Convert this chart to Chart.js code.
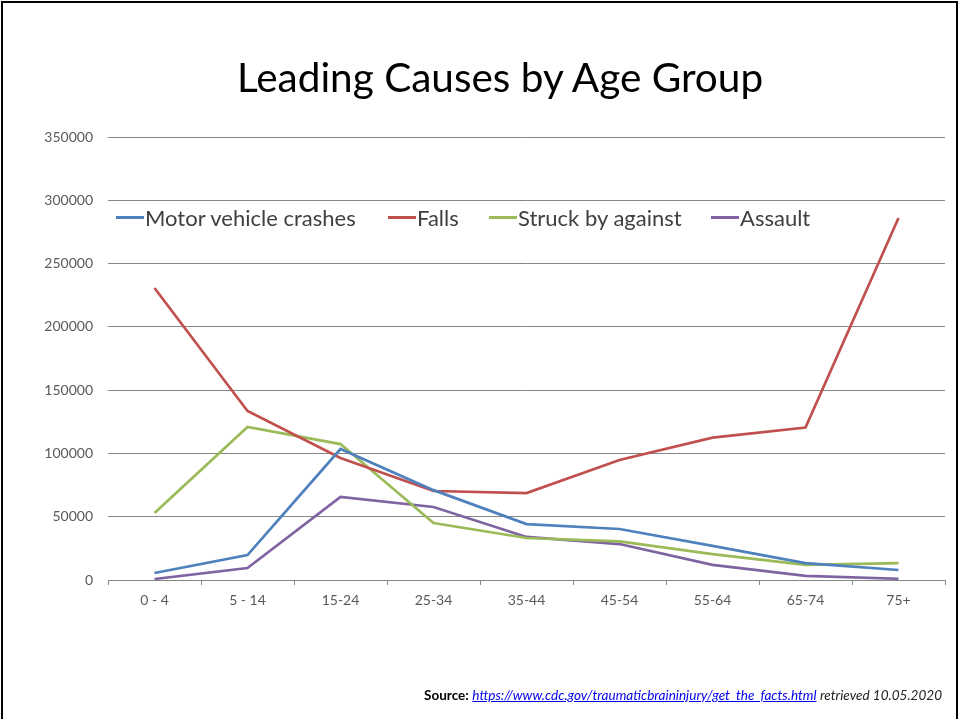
<!DOCTYPE html>
<html>
<head>
<meta charset="utf-8">
<script src="https://cdn.jsdelivr.net/npm/chart.js@4"></script>
<style>
  html, body { margin:0; padding:0; background:#fff; }
  #wrap { position:relative; width:960px; height:719px; overflow:hidden; font-family: Lato, "Open Sans", sans-serif; }
  #frame { position:absolute; left:1px; top:1px; width:957px; height:740px; border:2px solid #000; box-sizing:border-box; }
  #title { position:absolute; left:20px; width:960px; top:52px; text-align:center; font-size:40.5px; color:#000; }
  #cv { position:absolute; left:0; top:0; }
  #legend { position:absolute; top:204px; left:0; font-size:22px; color:#404040; white-space:nowrap; }
  .li { position:absolute; top:0; display:flex; align-items:center; }
  .sw { display:inline-block; width:28px; height:3px; margin-right:1px; }
  #source { position:absolute; top:687px; left:424px; font-size:13.55px; color:#000; white-space:nowrap; }
  #source b { font-weight:bold; }
  #source a { color:#0000ee; font-style:italic; text-decoration:underline; }
  #source i { color:#222; }
</style>
</head>
<body>
<div id="wrap">
  <canvas id="cv" width="960" height="719"></canvas>
  <div id="frame"></div>
  <div id="title">Leading Causes by Age Group</div>
  <div id="legend"></div>
  <div id="source"><b>Source:</b> <a>https://www.cdc.gov/traumaticbraininjury/get_the_facts.html</a> <i>retrieved 10.05.2020</i></div>
</div>
<script>
const categories = ["0 - 4", "5 - 14", "15-24", "25-34", "35-44", "45-54", "55-64", "65-74", "75+"];
const motorVehicle = [5500, 19700, 103500, 71000, 44200, 40300, 27000, 13400, 7900];
const falls = [230700, 133500, 96400, 70300, 68700, 94800, 112500, 120500, 286000];
const struckBy = [52900, 120900, 107400, 45000, 33200, 30500, 20500, 12000, 13400];
const assault = [800, 9500, 65600, 57700, 34000, 28400, 11900, 3200, 1000];
const seriesNames = ["Motor vehicle crashes", "Falls", "Struck by against", "Assault"];
const seriesColors = ["#4F81BD", "#C0504D", "#9BBB59", "#8064A2"];
const yTicks = [0, 50000, 100000, 150000, 200000, 250000, 300000, 350000];

const seriesData = [motorVehicle, falls, struckBy, assault];

// HTML legend
const legendPos = [116, 388, 489, 711];
const legend = document.getElementById('legend');
seriesNames.forEach((n, i) => {
  const d = document.createElement('div');
  d.className = 'li';
  d.style.left = legendPos[i] + 'px';
  d.innerHTML = '<span class="sw" style="background:' + seriesColors[i] + '"></span><span>' + n + '</span>';
  legend.appendChild(d);
});

new Chart(document.getElementById('cv'), {
  type: 'line',
  data: {
    labels: categories,
    datasets: seriesData.map((d, i) => ({
      label: seriesNames[i],
      data: d,
      borderColor: seriesColors[i],
      backgroundColor: seriesColors[i],
      borderWidth: 2.7,
      pointRadius: 0,
      tension: 0,
      fill: false
    }))
  },
  options: {
    responsive: false,
    animation: false,
    layout: { padding: { top: 137, left: 0, right: 15, bottom: 99 } },
    plugins: { legend: { display: false }, title: { display: false }, tooltip: { enabled: false } },
    scales: {
      x: {
        offset: true,
        grid: { offset: true, drawOnChartArea: false, drawTicks: true, tickLength: 5, color: '#868686' },
        border: { color: '#868686', width: 1 },
        ticks: { color: '#595959', font: { family: 'Lato', size: 14 }, padding: 7, maxRotation: 0, autoSkip: false },
        afterFit: s => { s.height = 40; }
      },
      y: {
        min: 0, max: 350000,
        afterBuildTicks: s => { s.ticks = yTicks.map(v => ({ value: v })); },
        grid: { color: '#868686', drawTicks: false, lineWidth: 1 },
        border: { display: false },
        ticks: { color: '#595959', font: { family: 'Lato', size: 14 }, padding: 15, callback: v => String(v) },
        afterFit: s => { s.width = 108; }
      }
    }
  }
});
</script>
</body>
</html>
